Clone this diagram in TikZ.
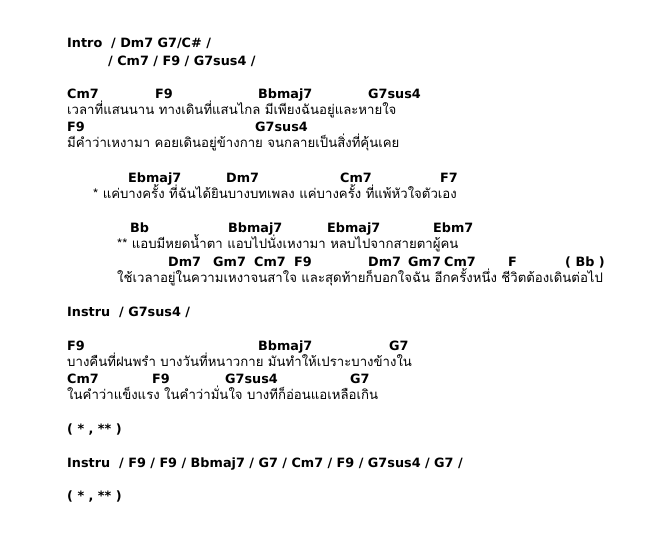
\documentclass[tikz,border=0pt]{standalone}
\usepackage{fontspec}
\setmainfont{DejaVu Sans}
\newfontfamily\thaifont[Script=Thai]{Loma}
\usetikzlibrary{positioning}
\tikzset{
  chord/.style={anchor=base west, inner sep=0pt, font=\bfseries\fontsize{12.8}{14}\selectfont},
  lyric/.style={anchor=base west, inner sep=0pt, font=\thaifont\fontsize{13.2}{15}\selectfont}
}
\begin{document}
\begin{tikzpicture}[x=1pt,y=-1pt]
	% Proper size --- Bounding box
	\useasboundingbox[fill=white] (0,0) rectangle (670,536);

	% Intro
	\node[chord] (intro1) at (67,47) {Intro~~/ Dm7 G7/C\# /};
	\node[chord] (intro2) at (108,65) {/ Cm7 / F9 / G7sus4 /};

	% Verse
	\node[chord] (v1a) at (67,98) {Cm7};
	\node[chord] (v1b) at (155,98) {F9};
	\node[chord] (v1c) at (258,98) {Bbmaj7};
	\node[chord] (v1d) at (368,98) {G7sus4};
	\node[lyric] (l1) at (67,114) {เวลาที่แสนนาน ทางเดินที่แสนไกล มีเพียงฉันอยู่และหายใจ};
	\node[chord] (v2a) at (67,131) {F9};
	\node[chord] (v2b) at (255,131) {G7sus4};
	\node[lyric] (l2) at (67,147) {มีคำว่าเหงามา คอยเดินอยู่ข้างกาย จนกลายเป็นสิ่งที่คุ้นเคย};

	% Chorus *
	\node[chord] (c1a) at (128,182) {Ebmaj7};
	\node[chord] (c1b) at (226,182) {Dm7};
	\node[chord] (c1c) at (340,182) {Cm7};
	\node[chord] (c1d) at (440,182) {F7};
	\node[lyric] (l3) at (93,198) {* แค่บางครั้ง ที่ฉันได้ยินบางบทเพลง แค่บางครั้ง ที่แพ้หัวใจตัวเอง};

	% Chorus **
	\node[chord] (c2a) at (130,232) {Bb};
	\node[chord] (c2b) at (228,232) {Bbmaj7};
	\node[chord] (c2c) at (327,232) {Ebmaj7};
	\node[chord] (c2d) at (433,232) {Ebm7};
	\node[lyric] (l4) at (117,248) {** แอบมีหยดน้ำตา แอบไปนั่งเหงามา หลบไปจากสายตาผู้คน};
	\node[chord] (c3a) at (168,266) {Dm7};
	\node[chord] (c3b) at (213,266) {Gm7};
	\node[chord] (c3c) at (254,266) {Cm7};
	\node[chord] (c3d) at (294,266) {F9};
	\node[chord] (c3e) at (368,266) {Dm7};
	\node[chord] (c3f) at (408,266) {Gm7};
	\node[chord] (c3g) at (444,266) {Cm7};
	\node[chord] (c3h) at (508,266) {F};
	\node[chord] (c3i) at (565,266) {( Bb )};
	\node[lyric] (l5) at (117,282) {ใช้เวลาอยู่ในความเหงาจนสาใจ และสุดท้ายก็บอกใจฉัน อีกครั้งหนึ่ง ชีวิตต้องเดินต่อไป};

	% Instru
	\node[chord] (instru1) at (67,316) {Instru~~/ G7sus4 /};

	% Verse 2
	\node[chord] (v3a) at (67,350) {F9};
	\node[chord] (v3b) at (258,350) {Bbmaj7};
	\node[chord] (v3c) at (389,350) {G7};
	\node[lyric] (l6) at (67,366) {บางคืนที่ฝนพรำ บางวันที่หนาวกาย มันทำให้เปราะบางข้างใน};
	\node[chord] (v4a) at (67,383) {Cm7};
	\node[chord] (v4b) at (152,383) {F9};
	\node[chord] (v4c) at (225,383) {G7sus4};
	\node[chord] (v4d) at (350,383) {G7};
	\node[lyric] (l7) at (67,399) {ในคำว่าแข็งแรง ในคำว่ามั่นใจ บางทีก็อ่อนแอเหลือเกิน};

	\node[chord] (rep1) at (67,433) {( * , ** )};
	\node[chord] (instru2) at (67,467) {Instru~~/ F9 / F9 / Bbmaj7 / G7 / Cm7 / F9 / G7sus4 / G7 /};
	\node[chord] (rep2) at (67,500) {( * , ** )};
\end{tikzpicture}
\end{document}
